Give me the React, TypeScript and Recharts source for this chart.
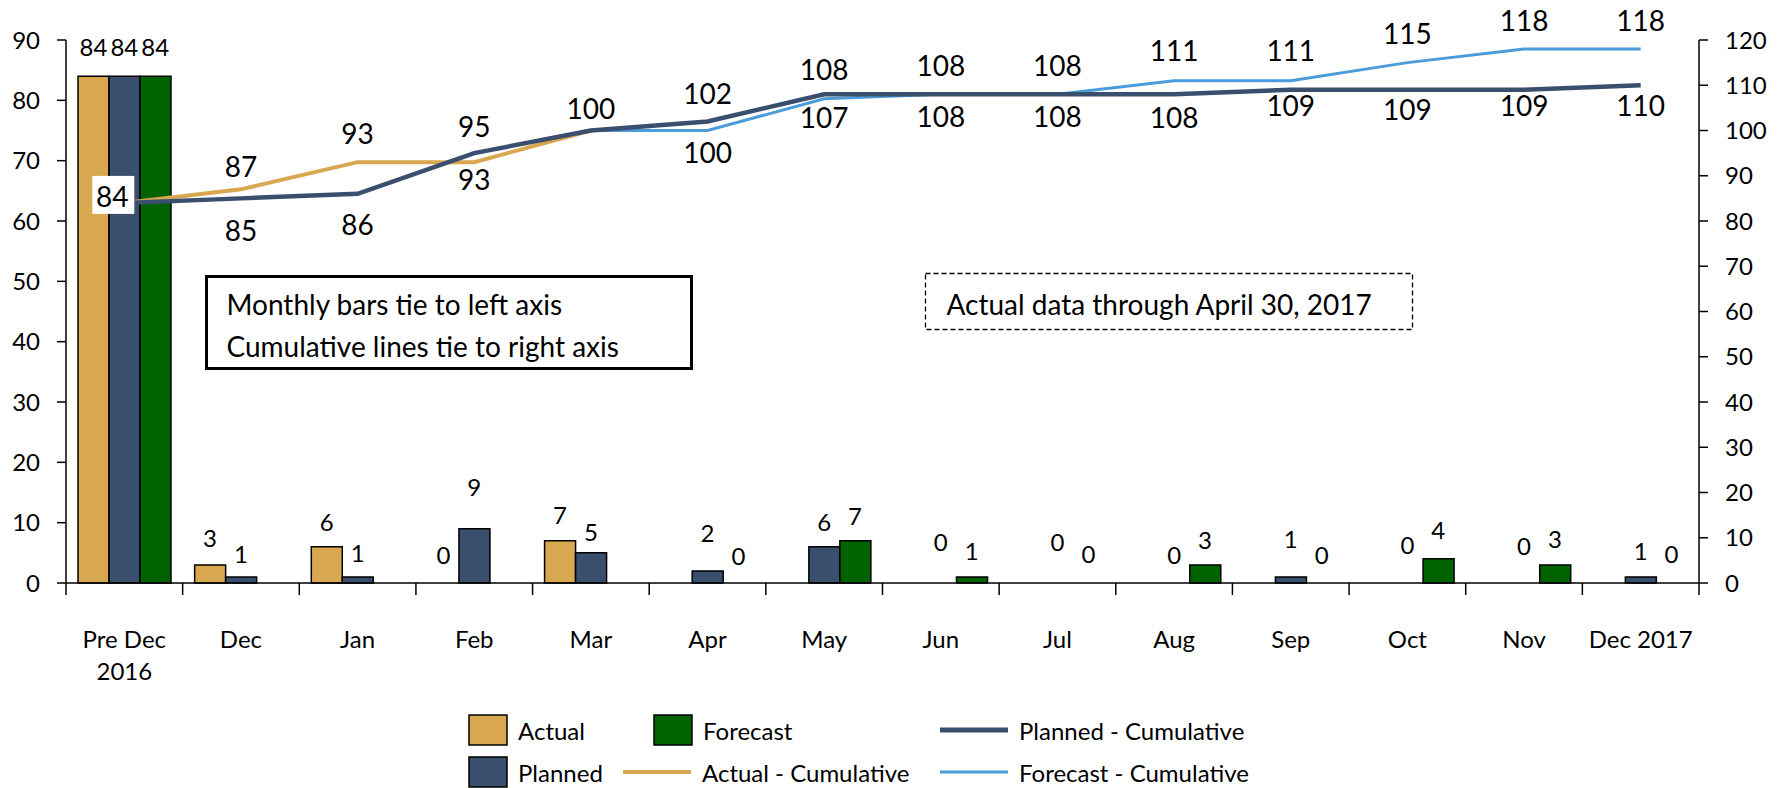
import { Bar, ComposedChart, LabelList, Legend, Line, XAxis, YAxis } from "recharts"

const categories = ["Pre Dec\n2016", "Dec", "Jan", "Feb", "Mar", "Apr", "May", "Jun", "Jul", "Aug", "Sep", "Oct", "Nov", "Dec 2017"]

// monthly bars (left axis)
const actual = [84, 3, 6, 0, 7, null, null, null, null, null, null, null, null, null]
const planned = [84, 1, 1, 9, 5, 2, 6, 0, 0, 0, 1, 0, 0, 1]
const forecast = [84, null, null, null, null, 0, 7, 1, 0, 3, 0, 4, 3, 0]

// cumulative lines (right axis)
const actualCum = [84, 87, 93, 93, 100, null, null, null, null, null, null, null, null, null]
const plannedCum = [84, 85, 86, 95, 100, 102, 108, 108, 108, 108, 109, 109, 109, 110]
const forecastCum = [null, null, null, null, 100, 100, 107, 108, 108, 111, 111, 115, 118, 118]

const leftTicks = [0, 10, 20, 30, 40, 50, 60, 70, 80, 90]
const rightTicks = [0, 10, 20, 30, 40, 50, 60, 70, 80, 90, 100, 110, 120]

const data = categories.map((name, i) => ({
  name,
  actual: actual[i],
  planned: planned[i],
  forecast: forecast[i],
  actualCum: actualCum[i],
  plannedCum: plannedCum[i],
  forecastCum: forecastCum[i],
}))

const FONT = "Lato, 'Open Sans', sans-serif"
const GOLD = "#D8A74F"
const NAVY = "#3A4E6D"
const GREEN = "#006300"
const BLUE = "#4B9CDB"

const W = 1780
const H = 788
const PLOT_LEFT = 66
const PLOT_RIGHT = W - 81
const BAND = (PLOT_RIGHT - PLOT_LEFT) / categories.length
const CAT_GAP = 12
const BAR_W = (BAND - 2 * CAT_GAP) / 3

// label nudges (how far the label centre sits from the mark), like the hand-placed excel labels
const actualBarDy = [29, 27, 24, 28, 25]
const plannedBarDy = [29, 23, 24, 41, 20, 38, 24, 41, 41, 28, 38, 38, 37, 26]
const forecastBarDy = [29, 0, 0, 0, 0, 27, 24, 26, 29, 25, 28, 29, 26, 29]

const actualCumDy = [null, -22, -28, 18, -22]
const plannedCumDy = [null, 33, 31, -26, null, -28, -24, -28, -28, 24, 16, 20, 16, 21]
const forecastCumDy = [null, null, null, null, null, 22, 19, 23, 23, -30, -30, -29, -28, -28]

const indexAt = (cx: number) => Math.floor((cx - PLOT_LEFT) / BAND)

// bar value labels are hung on invisible left-axis lines so that zero values get a label too
const barLabel = (offsets: number[], shift: number) => (props: any) => {
  const { x, y, value } = props
  if (value == null || y == null) return null
  const i = indexAt(Number(x))
  return (
    <text x={Number(x) + shift} y={Number(y) - (offsets[i] ?? 26)} dy="0.36em" textAnchor="middle" fontSize={24} fontFamily={FONT} fill="#000">
      {value}
    </text>
  )
}

const lineLabel = (offsets: (number | null)[], boxFirst = false) => (props: any) => {
  const { x, y, value } = props
  if (value == null || y == null) return null
  const i = indexAt(Number(x))
  if (boxFirst && i === 0) {
    return (
      <g>
        <rect x={x - 32} y={y - 27} width={42} height={38} fill="#fff" />
        <text x={x - 12} y={y + 4} textAnchor="middle" fontSize={28} fontFamily={FONT} fill="#000">
          {value}
        </text>
      </g>
    )
  }
  const dy = offsets[i]
  if (dy == null) return null
  return (
    <text x={x} y={y + dy} dy="0.36em" textAnchor="middle" fontSize={28} fontFamily={FONT} fill="#000">
      {value}
    </text>
  )
}

function CategoryTick(props: any) {
  const { x, y, payload, index } = props
  const lines = String(payload.value).split("\n")
  const half = BAND / 2
  return (
    <g>
      <line x1={x - half} x2={x - half} y1={y} y2={y + 12} stroke="#000" strokeWidth={1.5} />
      {index === categories.length - 1 && <line x1={x + half} x2={x + half} y1={y} y2={y + 12} stroke="#000" strokeWidth={1.5} />}
      <text x={x} y={y + 65} textAnchor="middle" fontSize={24} fontFamily={FONT} fill="#000">
        {lines.map((l, k) => (
          <tspan key={k} x={x} dy={k === 0 ? 0 : 32}>
            {l}
          </tspan>
        ))}
      </text>
    </g>
  )
}

const legendItems = [
  { name: "Actual", color: GOLD, kind: "bar", x: 469, y: 730 },
  { name: "Forecast", color: GREEN, kind: "bar", x: 654, y: 730 },
  { name: "Planned - Cumulative", color: NAVY, kind: "line", x: 940, y: 730, w: 5 },
  { name: "Planned", color: NAVY, kind: "bar", x: 469, y: 772 },
  { name: "Actual - Cumulative", color: GOLD, kind: "line", x: 623, y: 772, w: 4 },
  { name: "Forecast - Cumulative", color: BLUE, kind: "line", x: 940, y: 772, w: 3 },
]

function LegendBox() {
  return (
    <svg width={W} height={H} style={{ position: "absolute", left: 0, top: 0, overflow: "visible", pointerEvents: "none" }}>
      {legendItems.map((it) => {
        const swEnd = it.kind === "bar" ? it.x + 38 : it.x + 68
        return (
          <g key={it.name}>
            {it.kind === "bar" ? (
              <rect x={it.x} y={it.y - 15} width={38} height={30} fill={it.color} stroke="#000" strokeWidth={1.5} />
            ) : (
              <line x1={it.x} x2={swEnd} y1={it.y} y2={it.y} stroke={it.color} strokeWidth={it.w} />
            )}
            <text x={swEnd + 11} y={it.y + 10} fontSize={24} fontFamily={FONT} fill="#000">
              {it.name}
            </text>
          </g>
        )
      })}
    </svg>
  )
}

function Notes() {
  return (
    <svg width={W} height={H} style={{ position: "absolute", left: 0, top: 0, pointerEvents: "none" }}>
      <rect x={206.5} y={276.5} width={485} height={92} fill="#fff" stroke="#000" strokeWidth={3} />
      <text x={226.5} y={315} fontSize={28} fontFamily={FONT} fill="#000">
        Monthly bars tie to left axis
      </text>
      <text x={226.5} y={356.5} fontSize={28} fontFamily={FONT} fill="#000">
        Cumulative lines tie to right axis
      </text>
      <rect x={925.5} y={273.5} width={487} height={56} fill="#fff" stroke="#000" strokeWidth={1.3} strokeDasharray="5 3" />
      <text x={946.5} y={315} fontSize={28} fontFamily={FONT} fill="#000">
        Actual data through April 30, 2017
      </text>
    </svg>
  )
}

const hidden = { stroke: "none", strokeWidth: 0, dot: false, activeDot: false, legendType: "none" as const, isAnimationActive: false }

export default function App() {
  return (
    <div style={{ position: "absolute", left: 0, top: 0, width: W, height: H, background: "#fff" }}>
      <ComposedChart width={W} height={H} data={data} margin={{ top: 40, right: 0, bottom: 0, left: 0 }} barCategoryGap={CAT_GAP} barGap={0}>
        <XAxis
          dataKey="name"
          height={205}
          interval={0}
          tickSize={0}
          tickMargin={0}
          tickLine={false}
          axisLine={{ stroke: "#000", strokeWidth: 1.5 }}
          tick={<CategoryTick />}
        />
        <YAxis
          yAxisId="left"
          domain={[0, 90]}
          ticks={leftTicks}
          width={66}
          tickSize={9}
          tickMargin={17}
          axisLine={{ stroke: "#000", strokeWidth: 1.5 }}
          tickLine={{ stroke: "#000", strokeWidth: 1.5 }}
          tick={{ fill: "#000", fontSize: 24, fontFamily: FONT }}
        />
        <YAxis
          yAxisId="right"
          orientation="right"
          domain={[0, 120]}
          ticks={rightTicks}
          width={81}
          tickSize={9}
          tickMargin={17}
          axisLine={{ stroke: "#000", strokeWidth: 1.5 }}
          tickLine={{ stroke: "#000", strokeWidth: 1.5 }}
          tick={{ fill: "#000", fontSize: 24, fontFamily: FONT }}
        />
        <Bar yAxisId="left" dataKey="actual" name="Actual" fill={GOLD} stroke="#000" strokeWidth={1.5} isAnimationActive={false} />
        <Bar yAxisId="left" dataKey="planned" name="Planned" fill={NAVY} stroke="#000" strokeWidth={1.5} isAnimationActive={false} />
        <Bar yAxisId="left" dataKey="forecast" name="Forecast" fill={GREEN} stroke="#000" strokeWidth={1.5} isAnimationActive={false} />
        <Line yAxisId="right" dataKey="actualCum" name="Actual - Cumulative" stroke={GOLD} strokeWidth={4} dot={false} isAnimationActive={false}>
          <LabelList dataKey="actualCum" content={lineLabel(actualCumDy)} />
        </Line>
        <Line yAxisId="right" dataKey="forecastCum" name="Forecast - Cumulative" stroke={BLUE} strokeWidth={3} dot={false} isAnimationActive={false}>
          <LabelList dataKey="forecastCum" content={lineLabel(forecastCumDy)} />
        </Line>
        <Line yAxisId="right" dataKey="plannedCum" name="Planned - Cumulative" stroke={NAVY} strokeWidth={4.5} dot={false} isAnimationActive={false}>
          <LabelList dataKey="plannedCum" content={lineLabel(plannedCumDy, true)} />
        </Line>
        <Line yAxisId="left" dataKey="actual" {...hidden}>
          <LabelList dataKey="actual" content={barLabel(actualBarDy, -BAR_W)} />
        </Line>
        <Line yAxisId="left" dataKey="planned" {...hidden}>
          <LabelList dataKey="planned" content={barLabel(plannedBarDy, 0)} />
        </Line>
        <Line yAxisId="left" dataKey="forecast" {...hidden}>
          <LabelList dataKey="forecast" content={barLabel(forecastBarDy, BAR_W)} />
        </Line>
        <Legend content={() => <LegendBox />} wrapperStyle={{ left: 0, top: 0, bottom: "auto", width: W, height: 0 }} />
      </ComposedChart>
      <Notes />
    </div>
  )
}
